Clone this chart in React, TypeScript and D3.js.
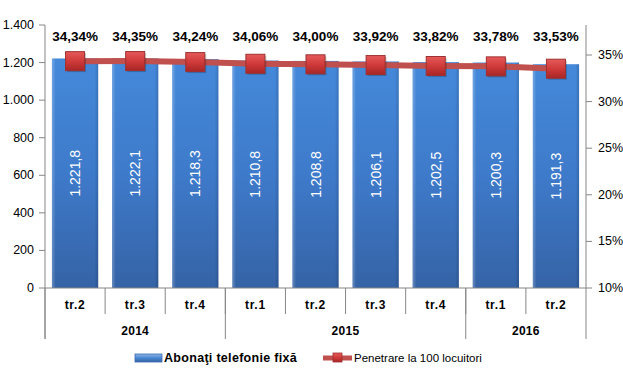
import React from "react";
import * as d3 from "d3";

const quarters = ["tr.2", "tr.3", "tr.4", "tr.1", "tr.2", "tr.3", "tr.4", "tr.1", "tr.2"];
const years = [
  { label: "2014", start: 0, end: 3 },
  { label: "2015", start: 3, end: 7 },
  { label: "2016", start: 7, end: 9 },
];
const subscribers = [1221.8, 1222.1, 1218.3, 1210.8, 1208.8, 1206.1, 1202.5, 1200.3, 1191.3];
const penetration = [34.34, 34.35, 34.24, 34.06, 34.0, 33.92, 33.82, 33.78, 33.53];
const leftTicks = [0, 200, 400, 600, 800, 1000, 1200, 1400];
const rightTicks = [10, 15, 20, 25, 30, 35];
const seriesNames = ["Abonaţi telefonie fixă", "Penetrare la 100 locuitori"];

const W = 623;
const H = 379;
const left = 45;
const right = 586;
const top = 25;
const bottom = 288;

const fmtThousands = (v: number) => {
  const s = Math.round(v).toString();
  return s.replace(/\B(?=(\d{3})+(?!\d))/g, ".");
};
const fmtBar = (v: number) => {
  const [i, d] = v.toFixed(1).split(".");
  return fmtThousands(+i) + "," + d;
};
const fmtPct = (v: number) => v.toFixed(2).replace(".", ",") + "%";

export default function App() {
  const idx = quarters.map((_, i) => i);
  const x = d3.scaleBand<number>().domain(idx).range([left, right]).paddingInner(0.23).paddingOuter(0.115);
  const step = (right - left) / quarters.length;
  const yL = d3.scaleLinear().domain([0, 1400]).range([bottom, top]);
  const yR = d3.scaleLinear().domain([10, 35]).range([bottom, 55]);
  const cx = (i: number) => (x(i) as number) + x.bandwidth() / 2;
  const line = d3
    .line<number>()
    .x((_, i) => cx(i))
    .y((d) => yR(d));
  const font = "'Liberation Sans', Arial, sans-serif";
  const ms = 19;

  return (
    <svg width={W} height={H} style={{ position: "absolute", left: 0, top: 0, fontFamily: font }}>
      <defs>
        <linearGradient id="barG" x1="0" y1="0" x2="0" y2="1">
          <stop offset="0" stopColor="#4589DA" />
          <stop offset="0.5" stopColor="#3E7ACA" />
          <stop offset="1" stopColor="#3563A6" />
        </linearGradient>
        <linearGradient id="barEdge" x1="0" y1="0" x2="1" y2="0">
          <stop offset="0" stopColor="#ffffff" stopOpacity="0.25" />
          <stop offset="0.08" stopColor="#ffffff" stopOpacity="0" />
          <stop offset="0.92" stopColor="#000000" stopOpacity="0" />
          <stop offset="1" stopColor="#000000" stopOpacity="0.15" />
        </linearGradient>
        <linearGradient id="mkG" x1="0" y1="0" x2="0" y2="1">
          <stop offset="0" stopColor="#E65A5A" />
          <stop offset="0.5" stopColor="#D03A3A" />
          <stop offset="1" stopColor="#A82626" />
        </linearGradient>
        <linearGradient id="legB" x1="0" y1="0" x2="0" y2="1">
          <stop offset="0" stopColor="#8DB8EC" />
          <stop offset="0.5" stopColor="#4A86D0" />
          <stop offset="1" stopColor="#3563A6" />
        </linearGradient>
      </defs>

      {/* bars */}
      {subscribers.map((v, i) => (
        <g key={"b" + i}>
          <rect x={x(i)} y={yL(v)} width={x.bandwidth()} height={bottom - yL(v)} fill="url(#barG)" />
          <rect x={x(i)} y={yL(v)} width={x.bandwidth()} height={bottom - yL(v)} fill="url(#barEdge)" />
          <text
            transform={`translate(${cx(i) + 5},${(yL(v) + bottom) / 2}) rotate(-90)`}
            textAnchor="middle"
            fill="#fff"
            fontSize={14}
          >
            {fmtBar(v)}
          </text>
        </g>
      ))}

      {/* axes */}
      <line x1={left} x2={left} y1={top} y2={339} stroke="#868686" />
      <line x1={right} x2={right} y1={top} y2={339} stroke="#868686" />
      <line x1={left} x2={right} y1={bottom} y2={bottom} stroke="#868686" />
      {leftTicks.map((t) => (
        <g key={"l" + t}>
          <line x1={left - 6} x2={left} y1={yL(t)} y2={yL(t)} stroke="#868686" />
          <text x={left - 11} y={yL(t) + 4} textAnchor="end" fontSize={12.5} fill="#000">
            {fmtThousands(t)}
          </text>
        </g>
      ))}
      {rightTicks.map((t) => (
        <g key={"r" + t}>
          <line x1={right} x2={right + 6} y1={yR(t)} y2={yR(t)} stroke="#868686" />
          <text x={right + 12} y={yR(t) + 4} textAnchor="start" fontSize={12.5} fill="#000">
            {t}%
          </text>
        </g>
      ))}

      {/* category separators & labels */}
      {quarters.map((q, i) => (
        <g key={"q" + i}>
          {i > 0 && (
            <line x1={left + step * i} x2={left + step * i} y1={bottom} y2={314} stroke="#868686" />
          )}
          <text x={cx(i)} y={309} textAnchor="middle" fontSize={12} fontWeight="bold" letterSpacing={0.7}>
            {q}
          </text>
        </g>
      ))}
      {years.map((yv) => (
        <g key={yv.label}>
          <line x1={left + step * yv.start} x2={left + step * yv.start} y1={bottom} y2={339} stroke="#868686" />
          <text
            x={left + (step * (yv.start + yv.end)) / 2}
            y={335}
            textAnchor="middle"
            fontSize={12}
            fontWeight="bold"
            letterSpacing={0.3}
          >
            {yv.label}
          </text>
        </g>
      ))}

      {/* line series */}
      <path d={line(penetration) || ""} fill="none" stroke="#C0504D" strokeWidth={6} />
      {penetration.map((v, i) => (
        <g key={"m" + i}>
          <rect
            x={cx(i) - ms / 2 + 1.5}
            y={yR(v) - ms / 2 + 1.5}
            width={ms}
            height={ms}
            fill="#000"
            opacity={0.2}
          />
          <rect
            x={cx(i) - ms / 2}
            y={yR(v) - ms / 2}
            width={ms}
            height={ms}
            fill="url(#mkG)"
            stroke="#9E3131"
            strokeWidth={1}
          />
          <text x={cx(i)} y={41} textAnchor="middle" fontSize={13.5} fontWeight="bold" fill="#000">
            {fmtPct(v)}
          </text>
        </g>
      ))}

      {/* legend */}
      <rect x={135} y={354} width={27} height={8} fill="url(#legB)" stroke="#3A6AAE" strokeWidth={0.8} />
      <text x={164} y={362} fontSize={12.5} fontWeight="bold" letterSpacing={0.3}>
        {seriesNames[0]}
      </text>
      <line x1={323} x2={352} y1={358} y2={358} stroke="#C0504D" strokeWidth={5} />
      <rect x={333} y={353} width={9} height={9} fill="url(#mkG)" stroke="#9E3131" strokeWidth={0.8} />
      <text x={354} y={362} fontSize={11.5}>
        {seriesNames[1]}
      </text>
    </svg>
  );
}
